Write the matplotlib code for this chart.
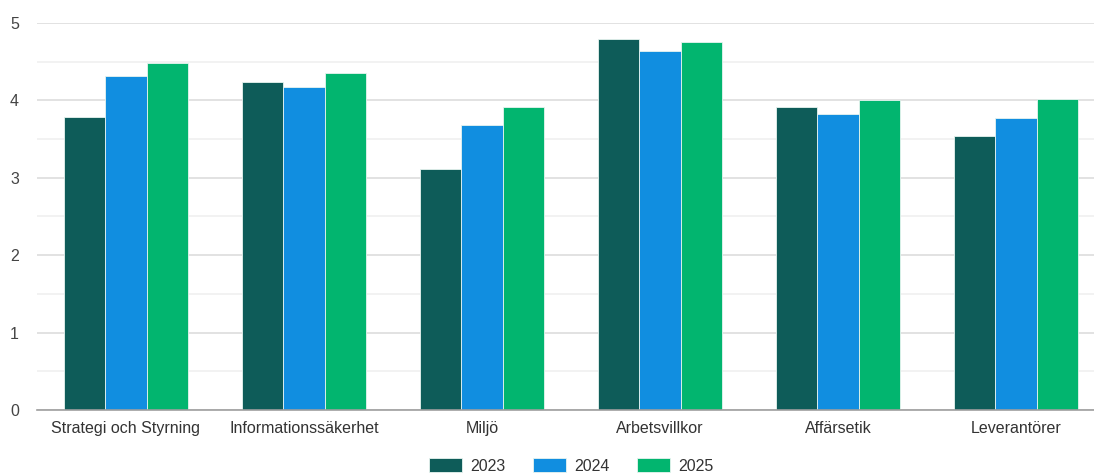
import matplotlib.pyplot as plt
import numpy as np

# === Data ===
categories = ['Strategi och Styrning', 'Informationssäkerhet', 'Miljö',
              'Arbetsvillkor', 'Affärsetik', 'Leverantörer']
years = ['2023', '2024', '2025']
values_2023 = [3.78, 4.24, 3.12, 4.79, 3.92, 3.54]
values_2024 = [4.31, 4.17, 3.68, 4.64, 3.82, 3.77]
values_2025 = [4.48, 4.36, 3.92, 4.75, 4.01, 4.02]
colors = ['#0e5c59', '#118ee0', '#02b56f']

plt.rcParams['font.family'] = ['Liberation Sans', 'DejaVu Sans']

fig = plt.figure(figsize=(10.94, 4.73), dpi=100)
# axes run a little past the right edge, like the cropped reference
ax = fig.add_axes([37 / 1094, 63 / 473, 1068 / 1094, 387 / 473])

x = np.arange(len(categories))
w = 0.233
for k, (vals, yr) in enumerate(zip([values_2023, values_2024, values_2025], years)):
    ax.bar(x + (k - 1) * w, vals, width=w, color=colors[k], label=yr,
           edgecolor='#e8f4f0', linewidth=0.6, zorder=3)

ax.set_xlim(-0.5, 5.5)
ax.set_ylim(0, 5)
ax.set_xticks(x)
ax.set_xticklabels(categories)
ax.set_yticks([0, 1, 2, 3, 4, 5])
ax.set_yticks(np.arange(0.5, 5, 1.0), minor=True)

ax.grid(axis='y', which='major', color='#dddddd', linewidth=1.2, zorder=0)
ax.grid(axis='y', which='minor', color='#f0f0f0', linewidth=1.2, zorder=0)

for side in ['top', 'right', 'left']:
    ax.spines[side].set_visible(False)
ax.spines['bottom'].set_color('#9e9e9e')
ax.spines['bottom'].set_linewidth(1.2)
ax.spines['bottom'].set_zorder(4)

ax.tick_params(axis='y', which='both', length=0, pad=13, labelsize=11.5, labelcolor='#444444')
ax.tick_params(axis='x', length=0, pad=8, labelsize=11.5, labelcolor='#333333')

fig.legend(loc='center', bbox_to_anchor=(571 / 1094, 7 / 473), ncol=3,
           frameon=False, fontsize=11.5, handlelength=2.1, handleheight=1.0,
           handletextpad=0.5, columnspacing=1.7, labelcolor='#333333')

fig.savefig('out.png', dpi=100)
